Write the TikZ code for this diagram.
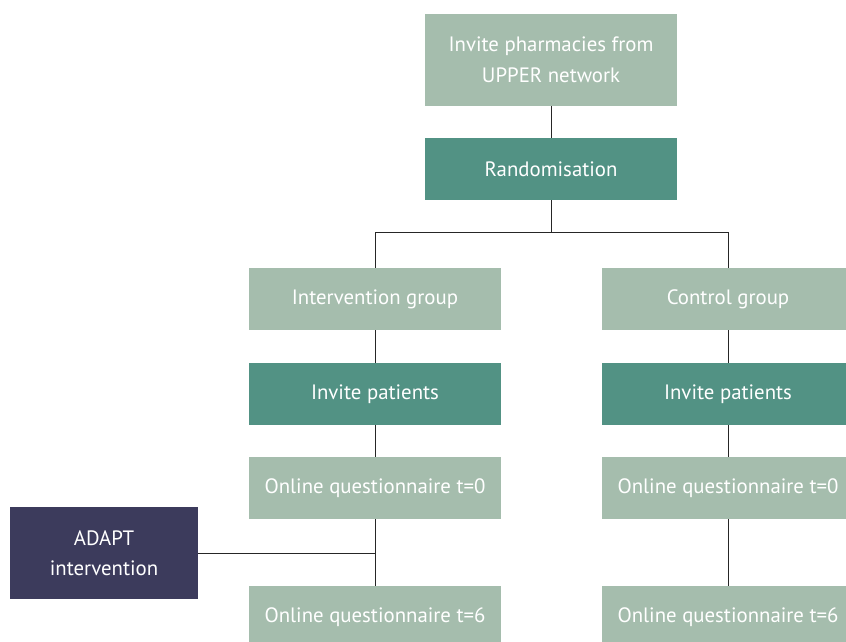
\documentclass[tikz,border=0pt]{standalone}
\usepackage{fontspec}
\setmainfont{PT Sans}
\definecolor{sage}{HTML}{A5BDAD}
\definecolor{teal}{HTML}{529284}
\definecolor{navy}{HTML}{3C3B5C}
\begin{document}
\begin{tikzpicture}[x=1pt,y=-1pt,
  box/.style={draw=none,minimum width=252pt,inner sep=0pt,text=white,
    font=\fontsize{20.8}{30.5}\selectfont,align=center},
  pale/.style={box,fill=sage},
  dark/.style={box,fill=teal},
  ink/.style={box,fill=navy,minimum width=188pt},
  link/.style={draw=black!85,line width=0.9pt}]
\useasboundingbox (0,0) rectangle (846,642);
\clip (0,0) rectangle (846,642);
% boxes, anchored at their centres
\node[pale,minimum height=92pt] (invite) at (551,60) {Invite pharmacies from\\UPPER network};
\node[dark,minimum height=62pt] (rand) at (551,169) {Randomisation};
\node[pale,minimum height=62pt] (igroup) at (375,299) {Intervention group};
\node[pale,minimum height=62pt] (cgroup) at (728,299) {Control group};
\node[dark,minimum height=62pt] (ipat) at (375,394) {Invite patients};
\node[dark,minimum height=62pt] (cpat) at (728,394) {Invite patients};
\node[pale,minimum height=62pt] (iq0) at (375,488) {Online questionnaire t=0};
\node[pale,minimum height=62pt] (cq0) at (728,488) {Online questionnaire t=0};
\node[pale,minimum height=62pt] (iq6) at (375,617) {Online questionnaire t=6};
\node[pale,minimum height=62pt] (cq6) at (728,617) {Online questionnaire t=6};
\node[ink,minimum height=92pt] (adapt) at (104,553) {ADAPT\\intervention};
% connectors
\coordinate (split) at (551,232);
\coordinate (join) at (375,553);
\draw[link] (invite) -- (rand);
\draw[link] (rand) -- (split);
\draw[link] (split) -| (igroup);
\draw[link] (split) -| (cgroup);
\draw[link] (igroup) -- (ipat);
\draw[link] (ipat) -- (iq0);
\draw[link] (iq0) -- (iq6);
\draw[link] (cgroup) -- (cpat);
\draw[link] (cpat) -- (cq0);
\draw[link] (cq0) -- (cq6);
\draw[link] (adapt) -- (join);
\end{tikzpicture}
\end{document}
